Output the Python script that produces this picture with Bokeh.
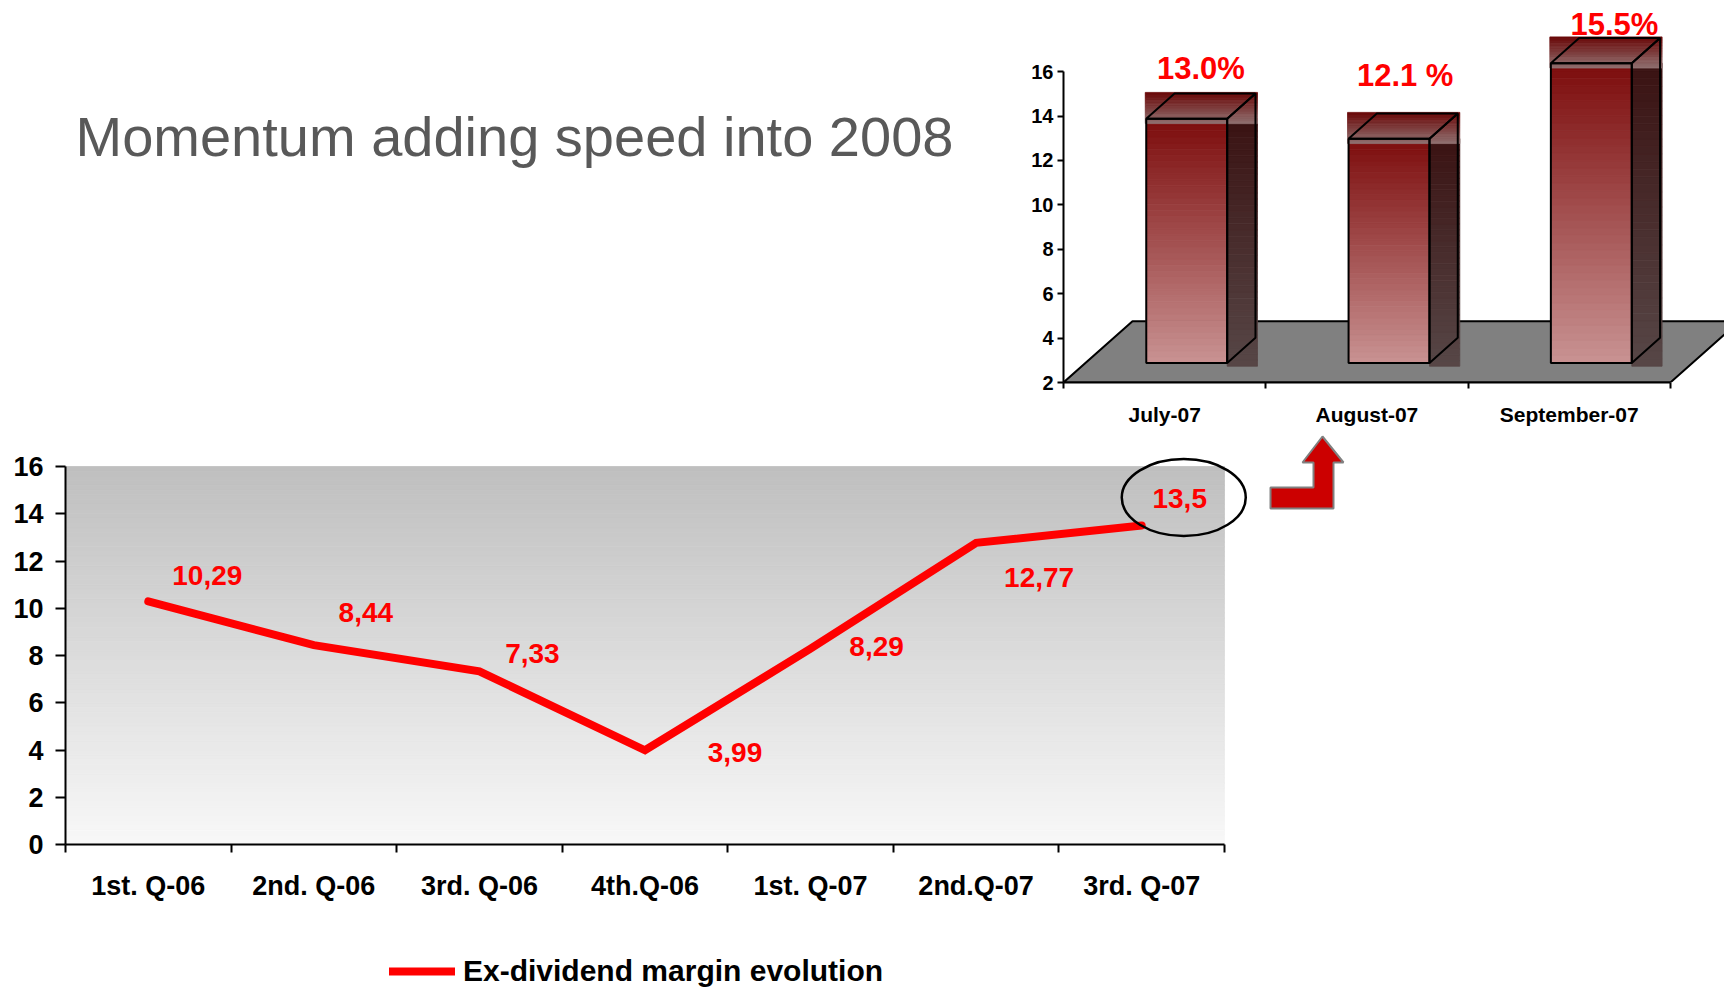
from bokeh.plotting import figure
from bokeh.layouts import column, row
from bokeh.models import FixedTicker, Label, Legend, LegendItem, ColumnDataSource
from bokeh.core.properties import value
from bokeh.embed import file_html
from bokeh.resources import INLINE

# ---------------- data ----------------
title_text = "Momentum adding speed into 2008"

quarters = ["1st. Q-06", "2nd. Q-06", "3rd. Q-06", "4th.Q-06",
            "1st. Q-07", "2nd.Q-07", "3rd. Q-07"]
margin = [10.29, 8.44, 7.33, 3.99, 8.29, 12.77, 13.5]
series_name = "Ex-dividend margin evolution"
line_ticks = [0, 2, 4, 6, 8, 10, 12, 14, 16]

months = ["July-07", "August-07", "September-07"]
monthly = [13.0, 12.1, 15.5]
monthly_labels = ["13.0%", "12.1 %", "15.5%"]
bar_ticks = [2, 4, 6, 8, 10, 12, 14, 16]

# ---------------- styling ----------------
FONT = "Liberation Sans"
RED = "#ff0000"

# pixel offsets of the value labels relative to their points
label_dx = [59, 52, 53, 90, 66, 63, 38]
label_dy = [-26, -33, -18, 2, -2, 35, -27]
bar_label_dx = [0, 2, 9]
bar_label_dy = [-25, -38, -14]


def mix(c0, c1, t):
    a = [int(c0[k:k + 2], 16) for k in (1, 3, 5)]
    b = [int(c1[k:k + 2], 16) for k in (1, 3, 5)]
    return "#%02x%02x%02x" % tuple(round(a[k] + (b[k] - a[k]) * t) for k in range(3))


def gradient_box(p, left, right, bottom, top, c_bottom, c_top, n=40):
    """Fill a box with a vertical colour ramp built from thin horizontal slices."""
    h = (top - bottom) / n
    bs = [bottom + k * h for k in range(n)]
    ts = [b + h for b in bs]
    cols = [mix(c_bottom, c_top, (k + 0.5) / n) for k in range(n)]
    p.quad(left=[left] * n, right=[right] * n, bottom=bs, top=ts,
           fill_color=cols, line_color=cols, line_width=0.8)


def clean(p):
    p.xgrid.visible = False
    p.ygrid.visible = False
    p.outline_line_color = None
    p.background_fill_color = "white"
    p.border_fill_color = "white"


# ---------------- title panel ----------------
title_fig = figure(width=1024, height=428, toolbar_location=None, output_backend="svg",
                   x_range=(0, 1), y_range=(0, 1), min_border=0)
title_fig.axis.visible = False
clean(title_fig)
title_fig.add_layout(Label(x=75, y=246, x_units="screen", y_units="screen",
                           text=title_text, text_font=FONT, text_font_size="56px",
                           text_color="#595959", text_baseline="alphabetic"))

# ---------------- monthly 3-D columns ----------------
BX_UNIT = 202.3   # px per category
BY_UNIT = 22.32   # px per value unit
bar_fig = figure(width=700, height=428, toolbar_location=None, output_backend="svg",
                 x_range=(0, 661 / BX_UNIT), y_range=(2, 2 + 384 / BY_UNIT),
                 min_border_left=39, min_border_right=0, min_border_top=0,
                 min_border_bottom=44)
clean(bar_fig)

DX, DY = 0.341, 2.76      # floor depth in data units
F1, F2 = 0.32, 0.73       # front / back depth of each column
HALF = 0.2
BASE = 2

bar_fig.patch([0, 3, 3 + DX, DX], [BASE, BASE, BASE + DY, BASE + DY],
              fill_color="#808080", line_color="black", line_width=2)

outline_xs, outline_ys = [], []
for i, v in enumerate(monthly):
    c = i + 0.5
    x0 = c - HALF + F1 * DX
    x1 = c + HALF + F1 * DX
    xb = c + HALF + F2 * DX
    xbl = c - HALF + F2 * DX
    yb = BASE + F1 * DY
    ybb = BASE + F2 * DY
    yt = v + F1 * DY
    ytb = v + F2 * DY
    gradient_box(bar_fig, x0, x1, yb, yt, "#c99393", "#7c0c0c")
    gradient_box(bar_fig, x1, xb + 0.01, yb - 0.15, yt, "#574747", "#3a1212")
    gradient_box(bar_fig, x0 - 0.005, xb + 0.01, yt - 0.22, ytb + 0.05,
                 "#907272", "#6a0808", n=20)
    outline_xs += [[x0, x1, x1, x0], [x1, xb, xb, x1], [x0, x1, xb, xbl]]
    outline_ys += [[yb, yb, yt, yt], [yb, ybb, ytb, yt], [yt, yt, ytb, ytb]]

bar_fig.patches(outline_xs, outline_ys, fill_color=None, line_color="black", line_width=2)

bar_src = ColumnDataSource(dict(
    x=[i + 0.5 + (F1 + F2) / 2 * DX for i in range(len(monthly))],
    y=[v + F2 * DY for v in monthly],
    text=monthly_labels, xo=bar_label_dx, yo=bar_label_dy))
bar_fig.text(x="x", y="y", text="text", x_offset="xo", y_offset="yo", source=bar_src,
             text_align="center", text_baseline="middle", text_color=RED,
             text_font=value(FONT), text_font_style="bold", text_font_size="31px")

bx = bar_fig.xaxis[0]
bx.ticker = FixedTicker(ticks=[i + 0.5 for i in range(len(months))],
                        minor_ticks=list(range(len(months) + 1)))
bx.major_label_overrides = {i + 0.5: m for i, m in enumerate(months)}
bx.bounds = (0, 3)
bx.major_tick_line_color = None
bx.major_tick_out = 0
bx.major_tick_in = 0
bx.minor_tick_out = 6
bx.minor_tick_in = 0
bx.minor_tick_line_width = 2
bx.minor_tick_line_color = "black"
bx.axis_line_width = 2
bx.major_label_standoff = 14
bx.major_label_text_font = FONT
bx.major_label_text_font_style = "bold"
bx.major_label_text_font_size = "21px"
bx.major_label_text_color = "black"

by = bar_fig.yaxis[0]
by.ticker = FixedTicker(ticks=bar_ticks)
by.bounds = (2, 16)
by.minor_tick_line_color = None
by.major_tick_out = 6
by.major_tick_in = 0
by.major_tick_line_width = 2
by.axis_line_width = 2
by.major_label_standoff = 4
by.major_label_text_font = FONT
by.major_label_text_font_style = "bold"
by.major_label_text_font_size = "20px"
by.major_label_text_color = "black"

# ---------------- quarterly margin line ----------------
LX_UNIT = 165.57
LY_UNIT = 23.625
line_fig = figure(width=1724, height=512, toolbar_location=None, output_backend="svg",
                  x_range=(0, 1659 / LX_UNIT), y_range=(0, 416 / LY_UNIT),
                  min_border_left=65, min_border_right=0, min_border_top=0,
                  min_border_bottom=96)
clean(line_fig)

gradient_box(line_fig, 0, len(quarters), 0, 16, "#f8f8f8", "#bfbfbf", n=80)

xs = [i + 0.5 for i in range(len(quarters))]
line_r = line_fig.line(xs, margin, line_color=RED, line_width=8,
                       line_cap="round", line_join="miter")

src = ColumnDataSource(dict(x=xs, y=margin,
                            text=[("%g" % v).replace(".", ",") for v in margin],
                            xo=label_dx, yo=label_dy))
line_fig.text(x="x", y="y", text="text", x_offset="xo", y_offset="yo", source=src,
              text_align="center", text_baseline="middle", text_color=RED,
              text_font=value(FONT), text_font_style="bold", text_font_size="28px")

# highlight ring around the latest quarter
line_fig.ellipse(x=[xs[-1] + 0.254], y=[margin[-1] + 1.185], width=124, height=77,
                 width_units="screen", height_units="screen",
                 fill_color=None, line_color="black", line_width=2.5)

# bent arrow pointing up to the monthly panel (shape in px, anchored near the ring)
arrow_px = [(1270, 508), (1333, 508), (1333, 462), (1343, 462), (1322, 436),
            (1302, 462), (1313, 462), (1313, 487), (1270, 487)]
line_fig.patch([(px - 65) / LX_UNIT for px, _ in arrow_px],
               [(844 - py) / LY_UNIT for _, py in arrow_px],
               fill_color="#cc0000", line_color="#808080", line_width=2)

lx = line_fig.xaxis[0]
lx.ticker = FixedTicker(ticks=xs, minor_ticks=list(range(len(quarters) + 1)))
lx.major_label_overrides = {x: q for x, q in zip(xs, quarters)}
lx.bounds = (-0.06, len(quarters))
lx.major_tick_line_color = None
lx.major_tick_out = 0
lx.major_tick_in = 0
lx.minor_tick_out = 8
lx.minor_tick_in = 0
lx.minor_tick_line_width = 2
lx.minor_tick_line_color = "black"
lx.axis_line_width = 2
lx.major_label_standoff = 18
lx.major_label_text_font = FONT
lx.major_label_text_font_style = "bold"
lx.major_label_text_font_size = "27px"
lx.major_label_text_color = "black"

ly = line_fig.yaxis[0]
ly.ticker = FixedTicker(ticks=line_ticks)
ly.bounds = (0, 16)
ly.minor_tick_line_color = None
ly.major_tick_out = 10
ly.major_tick_in = 0
ly.major_tick_line_width = 2
ly.axis_line_width = 2
ly.major_label_standoff = 12
ly.major_label_text_font = FONT
ly.major_label_text_font_style = "bold"
ly.major_label_text_font_size = "27px"
ly.major_label_text_color = "black"

# ---------------- legend strip ----------------
legend_fig = figure(width=1724, height=49, toolbar_location=None, output_backend="svg",
                    x_range=(0, 1), y_range=(0, 1), min_border=0)
legend_fig.axis.visible = False
clean(legend_fig)
# key renderer: same styling as the series, its data kept off the visible range
key_r = legend_fig.line(x=[-2, -1], y=[-2, -2], line_color=RED, line_width=8,
                        line_cap="round")
legend = Legend(items=[LegendItem(label=series_name, renderers=[key_r])],
                location=(324, 1), padding=0, margin=0,
                glyph_width=66, glyph_height=34, label_standoff=8,
                border_line_color=None, background_fill_alpha=0,
                label_text_font=FONT, label_text_font_style="bold",
                label_text_font_size="30px", label_text_color="black")
legend_fig.add_layout(legend)

page = column(row(title_fig, bar_fig), line_fig, legend_fig)
open("out.html", "w").write(file_html(page, INLINE))
